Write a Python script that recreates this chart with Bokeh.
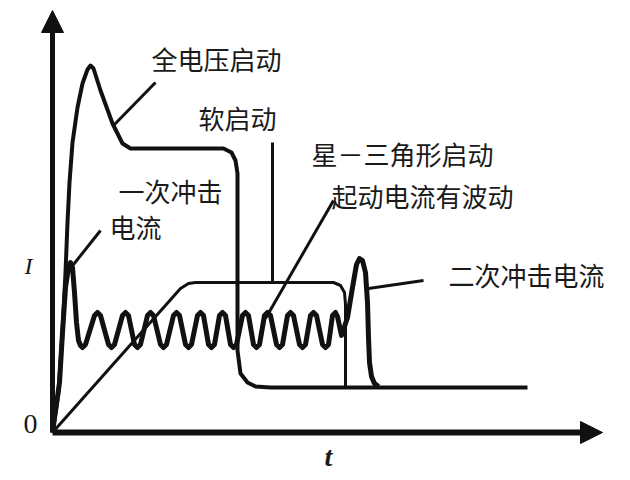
from bokeh.plotting import figure
from bokeh.models import Range1d, Arrow, NormalHead
from bokeh.core.properties import value
from bokeh.embed import file_html
from bokeh.resources import INLINE

# ---- data (t, I) ----
# full-voltage start
fv_t = [0, 6, 10, 13, 15, 17, 20, 25, 30, 35, 38, 41, 48, 60, 70, 78,
        171, 179, 183, 185, 185, 188, 195, 203, 218, 475]
fv_i = [0, 40, 100, 160, 210, 250, 290, 325, 349, 363, 367, 364, 342, 309, 289, 284,
        284, 280, 272, 259, 82, 59, 50, 46, 45, 45]

# soft start
ss_t = [0, 128, 136, 143, 281, 288, 292, 293, 293]
ss_i = [0, 144, 149, 150, 150, 147, 140, 128, 45]

# star-delta start (first impulse, ripple, second impulse)
sd_t = [0, 7, 10, 13, 16, 18, 20, 22, 24, 26, 28, 30, 33,
        42, 45, 48, 56, 59, 62, 70, 73, 76, 82, 85, 88,
        95, 98, 101, 108, 111, 114, 121, 124, 127, 133, 136, 139,
        145, 148, 151, 156, 159, 162, 167, 170, 173, 178, 181, 184,
        190, 193, 196, 201, 204, 207, 212, 215, 218, 224, 227, 230,
        235, 238, 241, 247, 250, 253, 258, 261, 264, 270, 273, 276,
        280, 283, 285,
        289, 295, 300, 304, 307, 310, 313, 315, 316, 317, 319, 322, 326]
sd_i = [0, 50, 100, 145, 165, 170, 165, 140, 110, 92, 87, 85, 88,
        117, 120, 117, 88, 85, 88, 117, 120, 117, 88, 85, 88,
        117, 120, 117, 88, 85, 88, 117, 120, 117, 88, 85, 88,
        117, 120, 117, 88, 85, 88, 117, 120, 117, 88, 85, 88,
        117, 120, 117, 88, 85, 88, 117, 120, 117, 88, 85, 88,
        117, 120, 117, 88, 85, 88, 117, 120, 117, 88, 85, 88,
        117, 120, 116,
        97, 115, 145, 168, 174, 172, 160, 130, 95, 70, 56, 49, 46]

# axis extents
T_MAX = 550
I_MAX = 422

# leader lines
lead_t0 = [103, 220, 281, 48, 371]
lead_i0 = [350, 290, 232, 202, 152]
lead_t1 = [61, 220, 213, 21, 316]
lead_i1 = [307, 149, 114, 168, 144]

# labels
labels = ["全电压启动", "软启动", "星－三角形启动", "起动电流有波动", "一次冲击", "电流", "二次冲击电流"]
label_t = [164, 185, 350, 370, 118, 83, 474]
label_i = [374, 315, 279, 237, 242, 206, 158]

INK = "#111111"

p = figure(width=622, height=472, output_backend="svg", toolbar_location=None,
           x_range=Range1d(-52, 570), y_range=Range1d(-40, 432),
           min_border=0, outline_line_color=None)
p.axis.visible = False
p.grid.visible = False
p.background_fill_color = "white"
p.border_fill_color = "white"

# axes with arrows
p.add_layout(Arrow(end=NormalHead(size=22, fill_color=INK, line_color=INK, line_width=1),
                   x_start=0, y_start=0, x_end=0, y_end=I_MAX,
                   line_width=5, line_color=INK))
p.add_layout(Arrow(end=NormalHead(size=22, fill_color=INK, line_color=INK, line_width=1),
                   x_start=0, y_start=0, x_end=T_MAX, y_end=0,
                   line_width=6, line_color=INK))

# curves
p.line(fv_t, fv_i, line_width=4, line_color=INK, line_join="round")
p.line(ss_t, ss_i, line_width=3, line_color=INK, line_join="round")
p.line(sd_t, sd_i, line_width=5, line_color=INK, line_join="round")

# leaders
p.segment(lead_t0, lead_i0, lead_t1, lead_i1, line_width=3, line_color=INK)

# labels
p.text(label_t, label_i, text=labels, text_font=value("Noto Sans CJK SC"),
       text_font_size="26px", text_align="center", text_baseline="middle",
       text_color="#1a1a1a")

p.text([-22], [9], text=["0"], text_font=value("Liberation Serif"),
       text_font_size="28px", text_align="center", text_baseline="middle", text_color="#1a1a1a")
p.text([-24], [167], text=["I"], text_font=value("Liberation Serif"), text_font_style="italic",
       text_font_size="24px", text_align="center", text_baseline="middle", text_color="#1a1a1a")
p.text([276], [-24], text=["t"], text_font=value("Liberation Serif"), text_font_style="bold italic",
       text_font_size="28px", text_align="center", text_baseline="middle", text_color="#1a1a1a")

open("out.html", "w").write(file_html(p, INLINE))
